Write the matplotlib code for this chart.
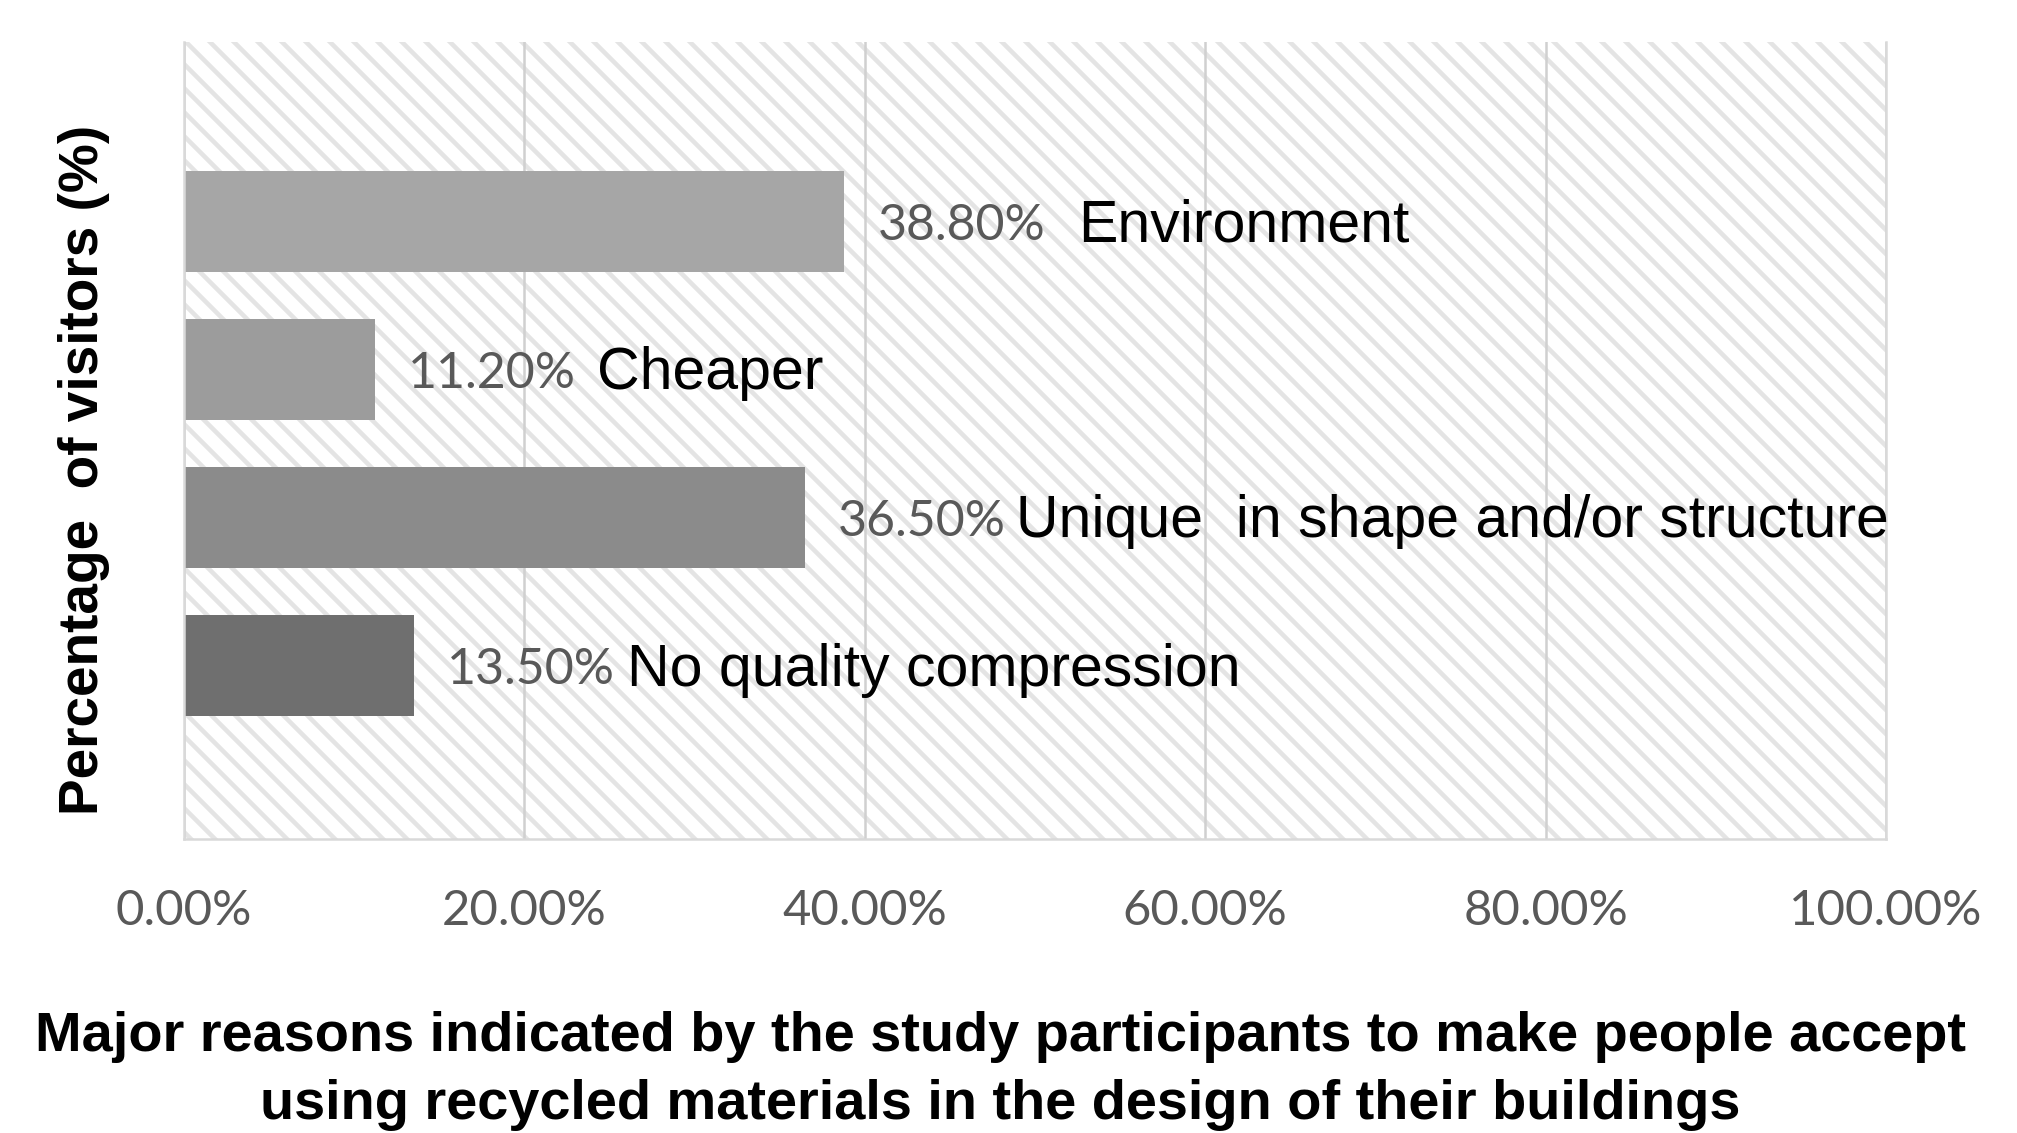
import matplotlib
matplotlib.use("Agg")
import matplotlib.pyplot as plt
from matplotlib import font_manager
from matplotlib.patches import Rectangle
import numpy as np

# data
categories = ["Environment", "Cheaper", "Unique  in shape and/or structure", "No quality compression"]
values = [38.80, 11.20, 36.50, 13.50]
bar_colors = ["#a6a6a6", "#9c9c9c", "#8b8b8b", "#6f6f6f"]
xticks = [0, 20, 40, 60, 80, 100]
xtick_labels = ["%.2f%%" % t for t in xticks]

ylabel = "Percentage  of visitors (%)"
title = ("Major reasons indicated by the study participants to make people accept\n"
         "using recycled materials in the design of their buildings")

# space between value label and category name (points), as in the original
label_gaps = [33, 21, 10, 12]

installed = {f.name for f in font_manager.fontManager.ttflist}
title_font = "Liberation Sans Narrow" if "Liberation Sans Narrow" in installed else "Liberation Sans"
arial = "Liberation Sans"
calibri = "Lato"

plt.rcParams["hatch.linewidth"] = 4.5

DPI = 72
fig = plt.figure(figsize=(2017 / DPI, 1133 / DPI), dpi=DPI)
ax = fig.add_axes([0.0912, 0.2595, 0.935 - 0.0912, 0.963 - 0.2595])

# hatched plot background
ax.add_patch(Rectangle((0, 0), 1, 1, transform=ax.transAxes, facecolor="white",
                       edgecolor="#e4e4e4", hatch="\\", lw=0, zorder=0))

ys = np.arange(len(categories))
ax.barh(ys, values, height=0.68, color=bar_colors, zorder=2)

ax.set_xlim(0, 100)
ax.set_ylim(4.17, -1.21)
ax.set_xticks(xticks)
ax.set_xticklabels(xtick_labels, fontfamily=calibri, fontsize=49, color="#595959")
ax.set_yticks([])
ax.tick_params(axis="x", length=0, pad=50)
ax.grid(axis="x", color="#d0d0d0", lw=2.5, zorder=1)
ax.set_axisbelow(True)

for side in ["left", "bottom", "right"]:
    ax.spines[side].set_color("#d9d9d9")
    ax.spines[side].set_linewidth(2.5)
ax.spines["top"].set_visible(False)

for y, v, cat, gap in zip(ys, values, categories, label_gaps):
    vt = ax.annotate("%.2f%%" % v, xy=(v, y), xytext=(33, 0), textcoords="offset points",
                     va="center_baseline", ha="left", fontfamily=calibri, fontsize=50,
                     color="#595959", zorder=3)
    ax.annotate(cat, xy=(1, 0.5), xycoords=vt, xytext=(gap, 0), textcoords="offset points",
                va="center", ha="left", fontfamily=arial, fontsize=59, color="black", zorder=3)

fig.text(0.0416, 0.585, ylabel, rotation=90, ha="center", va="center",
         fontfamily=arial, fontweight="bold", fontsize=55, color="black")

fig.text(0.496, 0.055, title, ha="center", va="center", multialignment="center",
         fontfamily=title_font, fontweight="bold", fontsize=56, color="black",
         linespacing=1.4)

fig.savefig("out.png", dpi=DPI)
